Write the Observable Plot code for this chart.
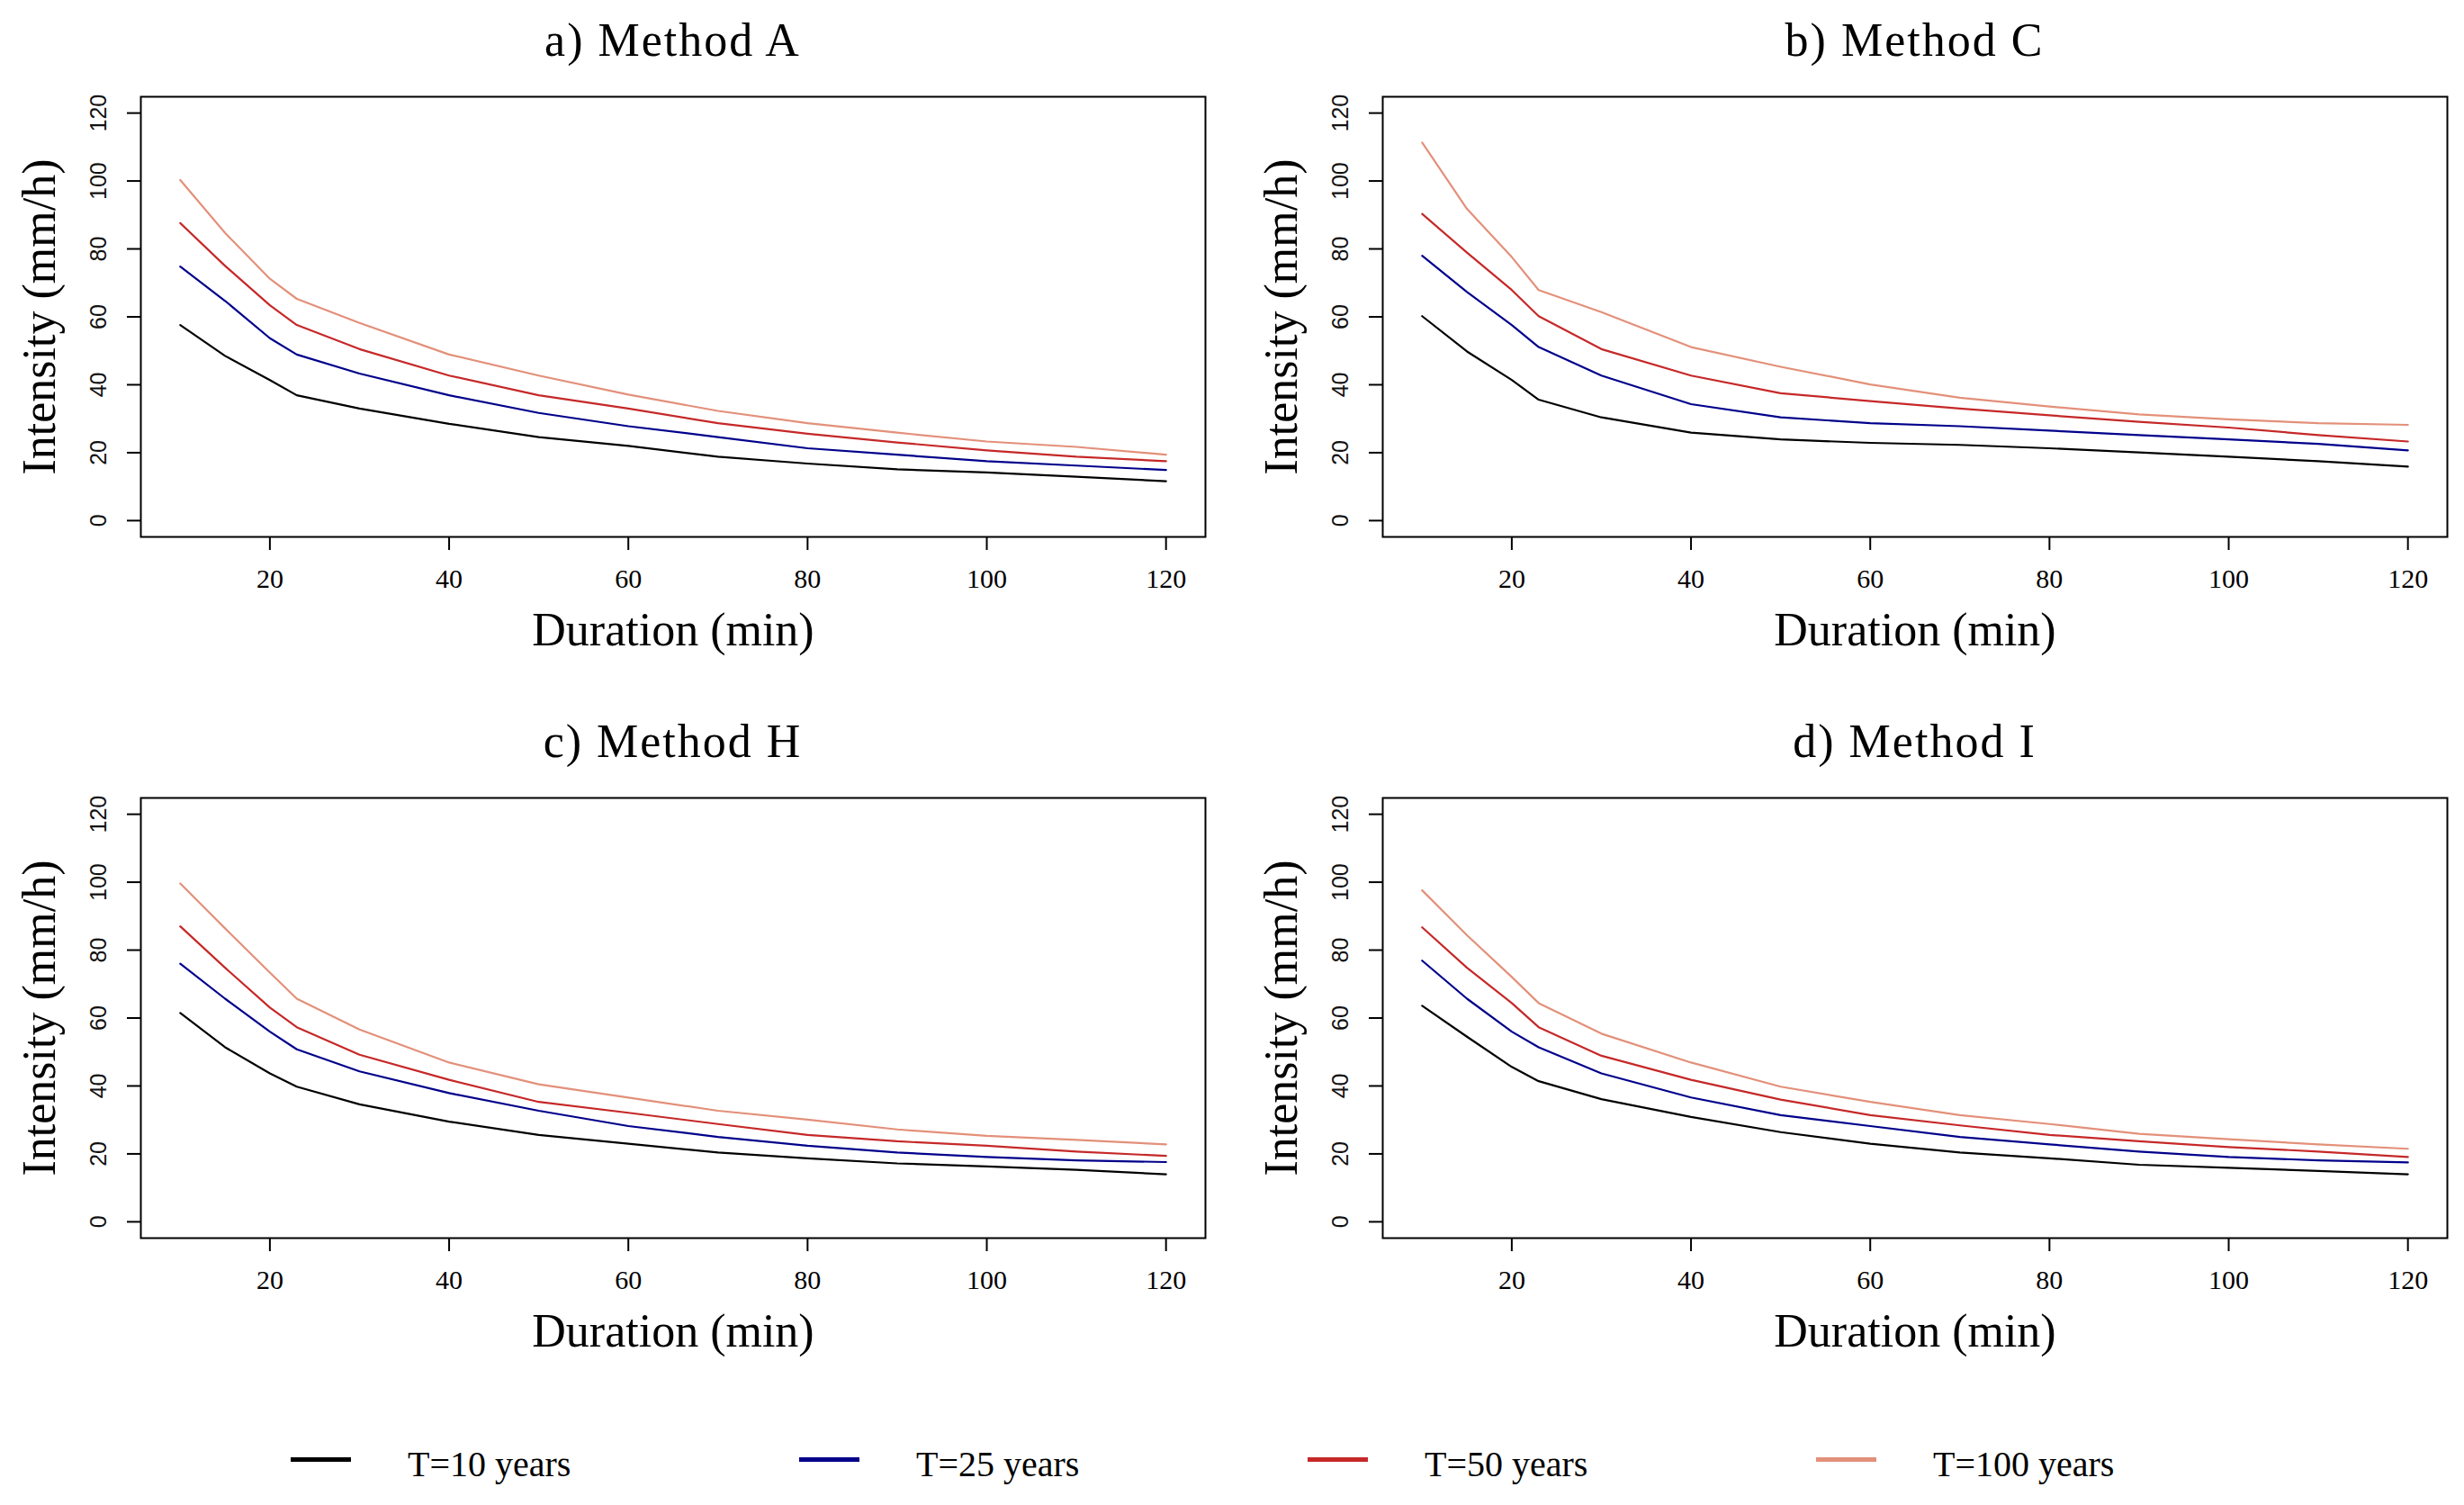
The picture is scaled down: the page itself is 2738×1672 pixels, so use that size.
<!DOCTYPE html>
<html><head><meta charset="utf-8">
<script src="https://cdn.jsdelivr.net/npm/d3@7"></script>
<script src="https://cdn.jsdelivr.net/npm/@observablehq/plot@0.6"></script>
<style>
html,body{margin:0;padding:0;background:#fff;}
body{width:2738px;height:1672px;position:relative;overflow:hidden;font-family:"Liberation Serif",serif;color:#000;}
.title{position:absolute;font-size:52px;letter-spacing:2px;transform:translate(-50%,-50%);white-space:nowrap;}
.panel{position:absolute;}
.sw{position:absolute;height:5px;}
.lt{position:absolute;font-size:40px;white-space:nowrap;transform:translateY(-50%);}
</style></head><body>
<script>
// ---- data ----
const durations = [10,15,20,23,30,40,50,60,70,80,90,100,110,120];
const methods = ["a) Method A","b) Method C","c) Method H","d) Method I"];
const periods = ["T=10 years","T=25 years","T=50 years","T=100 years"];
const colors = ["#000000","#00008B","#C62828","#E3907A"];
const xTicks = [20,40,60,80,100,120];
const yTicks = [0,20,40,60,80,100,120];
const xLabel = "Duration (min)";
const yLabel = "Intensity (mm/h)";

const A_T10  = [57.6,48.5,41.4,36.9,33.0,28.5,24.6,22.0,18.8,16.8,15.1,14.2,12.9,11.6];
const A_T25  = [74.8,64.7,53.7,48.9,43.3,36.9,31.7,27.8,24.6,21.3,19.4,17.5,16.2,14.9];
const A_T50  = [87.6,75.0,63.4,57.6,50.5,42.7,36.9,33.0,28.7,25.6,23.0,20.7,18.8,17.5];
const A_T100 = [100.3,84.7,71.2,65.3,58.2,48.9,42.7,37.1,32.3,28.7,25.9,23.3,21.7,19.4];

const C_T10  = [60.2,49.8,41.4,35.6,30.4,25.9,23.9,22.9,22.3,21.3,20.1,18.8,17.5,15.9];
const C_T25  = [78.0,67.3,57.6,51.1,42.7,34.3,30.4,28.7,27.8,26.5,25.2,23.9,22.6,20.7];
const C_T50  = [90.3,78.9,67.9,60.2,50.5,42.7,37.5,35.2,33.0,31.0,29.1,27.4,25.2,23.3];
const C_T100 = [111.3,91.8,77.6,67.9,61.4,51.1,45.3,40.1,36.2,33.6,31.3,29.8,28.7,28.2];

const H_T10  = [61.5,51.4,43.7,39.8,34.6,29.5,25.6,23.0,20.4,18.7,17.2,16.3,15.3,14.0];
const H_T25  = [76.0,65.7,56.0,50.8,44.3,37.9,32.7,28.2,25.0,22.4,20.4,19.1,18.1,17.6];
const H_T50  = [87.0,74.8,63.1,57.3,49.2,41.8,35.3,32.1,28.8,25.6,23.7,22.4,20.7,19.4];
const H_T100 = [99.6,86.4,73.4,65.7,56.6,46.9,40.5,36.6,32.7,30.1,27.2,25.3,24.1,22.8];

const I_T10  = [63.6,54.5,45.6,41.4,36.1,30.9,26.4,23.0,20.4,18.7,16.8,15.9,15.0,14.0];
const I_T25  = [76.9,65.7,56.0,51.4,43.7,36.6,31.4,28.2,25.0,22.8,20.7,19.1,18.1,17.5];
const I_T50  = [86.7,74.8,64.4,57.3,48.9,41.8,36.0,31.4,28.4,25.6,23.7,22.0,20.7,19.1];
const I_T100 = [97.6,84.4,72.1,64.4,55.4,46.9,39.8,35.3,31.4,28.8,25.9,24.3,22.8,21.5];

const seriesByMethod = [
  [A_T10,A_T25,A_T50,A_T100],
  [C_T10,C_T25,C_T50,C_T100],
  [H_T10,H_T25,H_T50,H_T100],
  [I_T10,I_T25,I_T50,I_T100]
];

// ---- layout ----
const panelX = [0,1380,0,1380];
const panelY = [0,0,779,779];
const W = 1358, H = 660, ML = 156, MR = 19, MT = 27, MB = 144;

methods.forEach((m, mi) => {
  const rows = [];
  seriesByMethod[mi].forEach((vals, si) => {
    vals.forEach((v, k) => rows.push({T: periods[si], d: durations[k], v}));
  });

  const title = document.createElement("div");
  title.className = "title";
  title.textContent = m;
  title.style.left = (panelX[mi] + ML + (W - ML - MR) / 2) + "px";
  title.style.top = (panelY[mi] + 44) + "px";
  document.body.appendChild(title);

  const chart = Plot.plot({
    width: W, height: H,
    marginLeft: ML, marginRight: MR, marginTop: MT, marginBottom: MB,
    x: {domain: [5.6, 124.4]},
    y: {domain: [-4.8, 124.8]},
    color: {domain: periods, range: colors},
    style: {background: "white", overflow: "visible", color: "black"},
    marks: [
      Plot.lineY(rows, {x: "d", y: "v", stroke: "T", strokeWidth: 2.2, z: "T"}),
      Plot.frame({stroke: "black", strokeWidth: 2}),
      Plot.axisX({ticks: xTicks, tickSize: 15, tickPadding: 20, fontSize: 30, fontFamily: "Liberation Serif", label: null, strokeWidth: 2}),
      Plot.axisY({ticks: yTicks, tickSize: 15, tickFormat: () => "", label: null, strokeWidth: 2}),
      Plot.text(yTicks, {y: d => d, text: d => String(d), frameAnchor: "left", dx: -47, rotate: -90,
        fontSize: 25, fontFamily: "Liberation Sans", textAnchor: "middle", lineAnchor: "middle", fill: "#111"}),
      Plot.text([yLabel], {text: d => d, frameAnchor: "left", dx: -112, rotate: -90, fontSize: 52,
        fontFamily: "Liberation Serif", textAnchor: "middle", lineAnchor: "middle"}),
      Plot.text([xLabel], {text: d => d, frameAnchor: "bottom", dy: 104, fontSize: 52,
        fontFamily: "Liberation Serif", textAnchor: "middle", lineAnchor: "middle"})
    ]
  });
  const wrap = document.createElement("div");
  wrap.className = "panel";
  wrap.style.left = panelX[mi] + "px";
  wrap.style.top = (panelY[mi] + 80) + "px";
  wrap.appendChild(chart);
  document.body.appendChild(wrap);
});

// ---- legend ----
periods.forEach((p, i) => {
  const sw = document.createElement("div");
  sw.className = "sw";
  sw.style.left = (323 + i * 565) + "px";
  sw.style.width = "67px";
  sw.style.top = "1619px";
  sw.style.background = colors[i];
  document.body.appendChild(sw);
  const t = document.createElement("div");
  t.className = "lt";
  t.textContent = p;
  t.style.left = (453 + i * 565) + "px";
  t.style.top = "1626px";
  document.body.appendChild(t);
});
</script>
</body></html>
